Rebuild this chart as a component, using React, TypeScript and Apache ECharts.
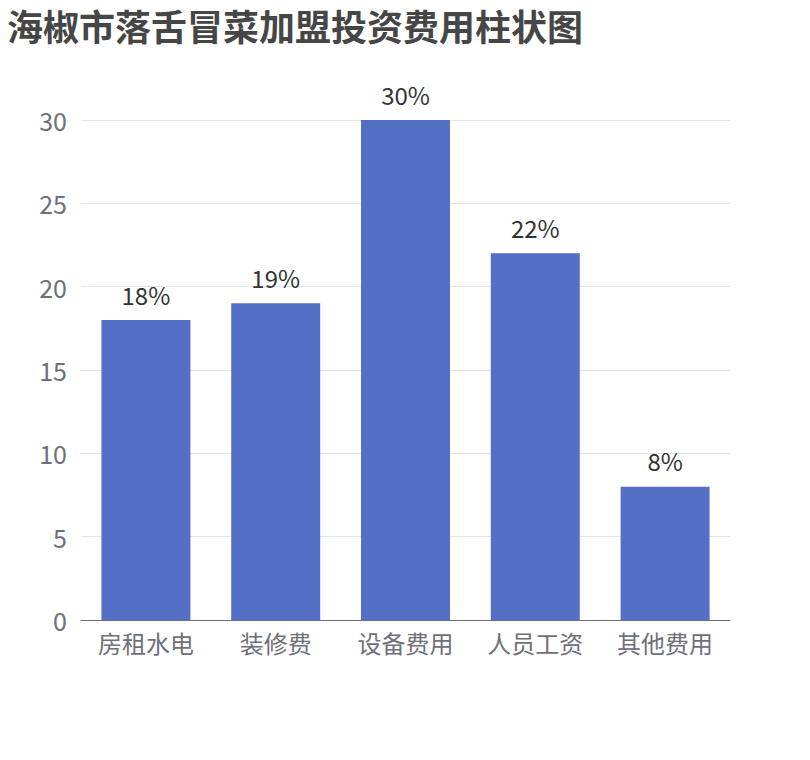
import { useEffect, useRef } from "react";
import * as echarts from "echarts";

const categories = ["房租水电", "装修费", "设备费用", "人员工资", "其他费用"];
const costShares = [18, 19, 30, 22, 8];
const yTicks = { min: 0, max: 30, interval: 5 };

const FONT = "'Noto Sans CJK SC', 'Noto Sans', sans-serif";

export default function App() {
  const chartRef = useRef<HTMLDivElement>(null);

  useEffect(() => {
    if (!chartRef.current) return;
    const chart = echarts.init(chartRef.current, undefined, { renderer: "svg" });

    chart.setOption({
      animation: false,
      textStyle: { fontFamily: FONT },
      title: {
        text: "海椒市落舌冒菜加盟投资费用柱状图",
        left: 2,
        top: 7,
        padding: [0, 5],
        textStyle: {
          fontFamily: FONT,
          fontSize: 36,
          fontWeight: "bold",
          color: "#464646",
        },
      },
      grid: {
        left: 81,
        right: 80,
        top: 120,
        bottom: 140,
      },
      xAxis: {
        type: "category",
        data: categories,
        axisLabel: {
          fontSize: 24,
          color: "#6e7079",
          margin: 10,
          fontFamily: FONT,
        },
        axisLine: { lineStyle: { color: "#6e7079" } },
        axisTick: { length: 7 },
      },
      yAxis: {
        type: "value",
        min: yTicks.min,
        max: yTicks.max,
        interval: yTicks.interval,
        axisLabel: {
          fontSize: 25,
          color: "#6e7079",
          margin: 14,
          fontFamily: FONT,
        },
        splitLine: { lineStyle: { color: "#e0e6f1" } },
      },
      series: [
        {
          type: "bar",
          data: costShares,
          barWidth: 89,
          itemStyle: { color: "#5470c6" },
          label: {
            show: true,
            position: "top",
            distance: 14,
            fontSize: 24,
            color: "#333333",
            fontFamily: FONT,
            formatter: (p: { value: number }) => `${p.value}%`,
          },
        },
      ],
    });

    return () => {
      chart.dispose();
    };
  }, []);

  return <div ref={chartRef} style={{ width: 810, height: 760, margin: -8 }} />;
}
